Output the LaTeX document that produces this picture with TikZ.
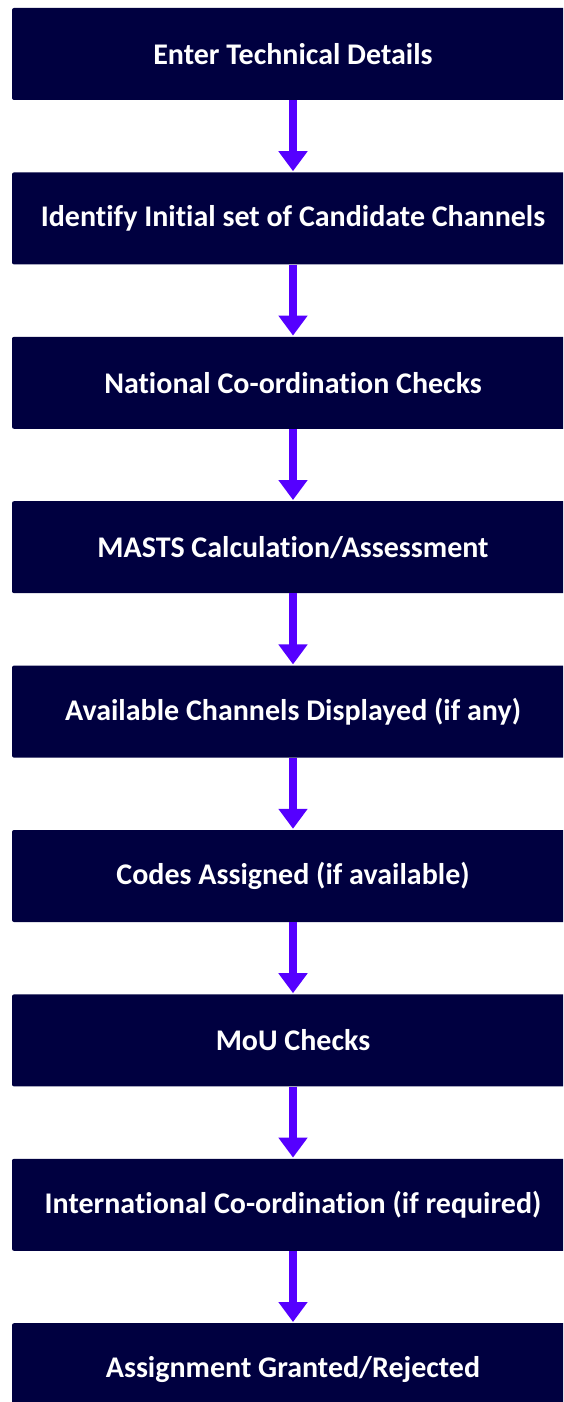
\documentclass[tikz,border=0pt]{standalone}
\usepackage{fontspec}
\setmainfont{Carlito}[Ligatures={NoCommon}]
\usetikzlibrary{arrows.meta, positioning}
\definecolor{boxnavy}{RGB}{0,0,64}
\definecolor{arrowviolet}{RGB}{85,0,255}
\tikzset{
    stepbox/.style = {rectangle, rounded corners=2pt, fill=boxnavy, text=white,
        minimum width=562pt, minimum height=92pt, inner sep=0pt,
        font=\fontsize{30}{36}\selectfont\bfseries},
    flowarrow/.style = {draw=arrowviolet, line width=8pt,
        -{Triangle[width=28pt,length=20pt]}, shorten >=1pt}
}

\begin{document}
\begin{tikzpicture}[x=1pt, y=1pt]
    % Bordi
    \useasboundingbox (0,0) rectangle (563,-1402);
    \clip (0,0) rectangle (563,-1402);
    % Passi
    \node[stepbox] (details) at (293,-54) {Enter Technical Details};
    \node[stepbox, below=72pt of details] (candidates) {Identify Initial set of Candidate Channels};
    \node[stepbox, below=72pt of candidates] (national) {National Co-ordination Checks};
    \node[stepbox, below=72pt of national] (masts) {MASTS Calculation/Assessment};
    \node[stepbox, below=72pt of masts] (available) {Available Channels Displayed (if any)};
    \node[stepbox, below=72pt of available] (codes) {Codes Assigned (if available)};
    \node[stepbox, below=72pt of codes] (mou) {MoU Checks};
    \node[stepbox, below=72pt of mou] (international) {International Co-ordination (if required)};
    \node[stepbox, below=72pt of international] (granted) {Assignment Granted/Rejected};
    % Frecce
    \foreach \from/\to in {details/candidates, candidates/national, national/masts,
        masts/available, available/codes, codes/mou, mou/international, international/granted}
        \draw[flowarrow] (\from.south) -- (\to.north);
\end{tikzpicture}
\end{document}
